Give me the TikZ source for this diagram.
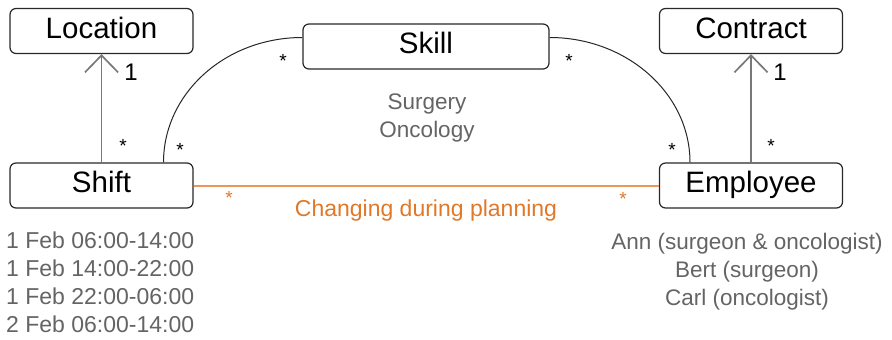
\documentclass[tikz,border=0pt]{standalone}
\usepackage{fontspec}
\setmainfont{Liberation Sans}
\usetikzlibrary{arrows.meta}

\definecolor{boxline}{RGB}{40,40,40}
\definecolor{arrowgray}{RGB}{120,120,120}
\definecolor{notegray}{RGB}{100,100,100}
\definecolor{planline}{RGB}{236,150,90}
\definecolor{plantext}{RGB}{225,120,40}

\begin{document}
\begin{tikzpicture}[x=1pt, y=-1pt,
    entity/.style={draw=boxline, line width=1.2pt, rounded corners=6pt, minimum width=183pt, minimum height=45pt, inner sep=0pt, font=\fontsize{29.5}{34}\selectfont, text height=20pt, text depth=6pt},
    mult/.style={inner sep=0pt, anchor=base, font=\fontsize{19}{20}\selectfont},
    one/.style={inner sep=0pt, font=\fontsize{23}{26}\selectfont},
    note/.style={inner sep=0pt, text=notegray, font=\fontsize{22.5}{28}\selectfont},
    assoc/.style={draw=black!85, line width=1pt},
    ref/.style={draw=arrowgray, line width=1.7pt, -{Straight Barb[length=17pt, width=33pt, line width=1.7pt]}},
    plan/.style={draw=planline, line width=2pt}
]
\useasboundingbox (0,0) rectangle (892,340);

% Classes
\node[entity] (location) at (101.5,31) {Location};
\node[entity] (shift) at (101.5,185.5) {Shift};
\node[entity, minimum width=246pt] (skill) at (426,46.5) {Skill};
\node[entity] (contract) at (751,31) {Contract};
\node[entity] (employee) at (751,185.5) {Employee};

% Many-to-one references
\draw[ref] (shift.north) -- (location.south);
\draw[ref] (employee.north) -- (contract.south);
\node[one, font=\fontsize{24}{26}\selectfont] (locone) at (131,72) {1};
\node[one, font=\fontsize{24}{26}\selectfont] (conone) at (780,72) {1};

% Skill associations
\coordinate (shiftN) at ([xshift=62pt]shift.north);
\coordinate (skillW) at ([yshift=9pt]skill.west);
\coordinate (skillE) at ([yshift=9pt]skill.east);
\coordinate (empN) at ([xshift=-61pt]employee.north);
\draw[assoc] (shiftN) .. controls ([yshift=69pt]shiftN) and ([xshift=-77pt]skillW) .. (skillW);
\draw[assoc] (skillE) .. controls ([xshift=77pt]skillE) and ([yshift=69pt]empN) .. (empN);

% Multiplicities
\foreach \p [count=\i] in {(123,152),(180,156),(283,67),(569,67),(672,156),(771,152)}
    \node[mult] (star\i) at \p {*};

% Planning variable
\draw[plan] (shift.east) -- (employee.west);
\node[mult, text=plantext] (planstarA) at (229,204) {*};
\node[mult, text=plantext] (planstarB) at (623,205) {*};
\node[one, anchor=base, text=plantext] (planlabel) at (426,216) {Changing during planning};

% Example data
\node[note, align=center, anchor=north] (skillnote) at (427,94) {Surgery\\Oncology};
\node[note, align=left, anchor=north west, font=\fontsize{23}{28}\selectfont] (shiftnote) at (6,232) {1 Feb 06:00-14:00\\1 Feb 14:00-22:00\\1 Feb 22:00-06:00\\2 Feb 06:00-14:00};
\node[note, align=center, anchor=north] (empnote) at (747,232.5) {Ann (surgeon \& oncologist)\\Bert (surgeon)\\Carl (oncologist)};

\end{tikzpicture}
\end{document}
